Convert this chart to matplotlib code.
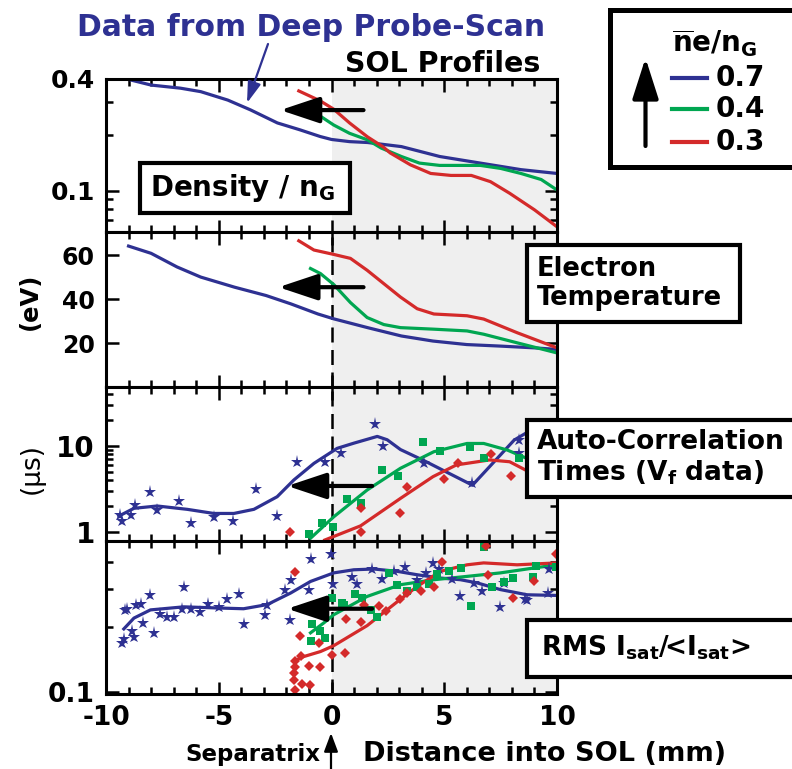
import numpy as np
import matplotlib.pyplot as plt
from matplotlib.patches import Rectangle
from matplotlib.ticker import NullFormatter

W, H = 792, 769

blue = '#2e3192'
green = '#00a651'
red = '#d42a2a'
shade = '#efefef'

# density / nG  (ne/nG = 0.7, 0.4, 0.3)
dens_x_07 = [-8.9, -8.0, -6.7, -5.8, -4.6, -3.6, -2.4, -1.4, -0.5, 0.0, 0.8, 1.6, 3.1, 4.8, 6.6, 8.4, 10.0]
dens_07 = [0.395, 0.371, 0.357, 0.342, 0.308, 0.273, 0.232, 0.213, 0.196, 0.189, 0.184, 0.182, 0.173, 0.153, 0.141, 0.130, 0.124]
dens_x_04 = [-0.8, 0.1, 0.8, 1.6, 2.2, 3.1, 3.9, 4.8, 6.6, 7.5, 8.4, 9.3, 10.0]
dens_04 = [0.267, 0.226, 0.204, 0.188, 0.170, 0.153, 0.141, 0.137, 0.137, 0.132, 0.124, 0.115, 0.101]
dens_x_03 = [-1.45, -0.5, 0.1, 0.8, 1.6, 2.3, 2.6, 3.5, 4.4, 5.3, 6.2, 7.05, 7.9, 9.0, 10.0]
dens_03 = [0.345, 0.305, 0.275, 0.232, 0.195, 0.172, 0.160, 0.138, 0.124, 0.121, 0.121, 0.112, 0.097, 0.079, 0.064]

# electron temperature (eV)
te_x_07 = [-9.0, -8.0, -6.85, -5.8, -4.3, -2.9, -1.8, -0.6, 0.1, 1.6, 3.1, 4.5, 6.0, 7.5, 9.0, 10.0]
te_07 = [64.1, 60.8, 54.6, 50.0, 45.4, 41.6, 37.8, 33.2, 31.0, 27.0, 23.2, 20.9, 19.3, 18.6, 17.8, 17.1]
te_x_04 = [-0.93, -0.49, 0.10, 0.84, 1.58, 2.32, 3.06, 4.54, 6.01, 6.75, 8.23, 10.0]
te_04 = [53.9, 51.6, 46.6, 38.4, 31.6, 28.4, 27.0, 26.3, 25.5, 24.0, 20.1, 15.5]
te_x_03 = [-1.45, -0.78, 0.10, 0.84, 1.58, 2.32, 3.06, 3.80, 4.54, 6.01, 6.75, 8.23, 10.0]
te_03 = [66.5, 62.3, 60.3, 58.5, 53.1, 47.0, 40.9, 35.6, 33.2, 32.4, 30.9, 24.7, 17.8]

# auto-correlation times (us): points and fits
acf_pts_x_07 = [-9.36, -9.28, -8.91, -8.72, -8.03, -7.73, -6.77, -6.22, -5.20, -4.38, -3.37, -2.41,
                -1.55, -0.27, 0.40, 1.91, 2.29, 4.08, 6.23, 8.32, 8.32]
acf_pts_07 = [1.56, 1.34, 1.56, 2.05, 2.92, 1.79, 2.30, 1.25, 1.50, 1.34, 3.13, 1.53,
              6.5, 6.5, 8.2, 18.0, 9.8, 6.3, 3.65, 11.6, 8.2]
acf_fit_x_07 = [-9.43, -8.76, -7.73, -6.40, -5.22, -4.33, -3.44, -2.41, -1.67, -0.78, 0.25, 1.0,
                2.03, 2.47, 3.06, 4.10, 6.25, 8.10, 9.0]
acf_fit_07 = [1.52, 1.87, 1.99, 1.82, 1.63, 1.63, 1.82, 2.55, 3.99, 6.22, 9.3, 10.7,
              12.8, 11.7, 9.0, 6.7, 3.47, 11.6, 16.0]
acf_pts_x_04 = [-1.01, -0.41, 0.06, 0.69, 1.29, 2.22, 2.95, 4.07, 4.81, 6.13, 6.75, 8.32]
acf_pts_04 = [0.94, 1.25, 1.14, 2.42, 2.14, 5.2, 4.43, 11.1, 8.75, 9.55, 7.1, 7.1]
acf_fit_x_04 = [-0.93, 0.10, 1.58, 3.06, 4.54, 6.01, 6.75, 7.79, 8.67, 10.0]
acf_fit_04 = [0.84, 1.49, 3.05, 5.46, 8.5, 10.6, 10.6, 8.9, 7.1, 5.5]
acf_pts_x_03 = [-1.82, 1.29, 1.29, 3.02, 3.33, 5.01, 5.59, 7.08, 7.97]
acf_pts_03 = [1.0, 1.9, 0.98, 1.66, 3.33, 4.07, 6.35, 8.1, 4.48]
acf_fit_x_03 = [-0.3, 1.29, 3.06, 4.50, 5.54, 7.01, 7.90, 8.67, 10.0]
acf_fit_03 = [0.80, 1.17, 2.44, 4.36, 5.97, 6.82, 6.5, 5.1, 3.6]

# RMS Isat / <Isat>
rms_pts_x_07 = [-9.28, -9.18, -9.14, -9.06, -8.84, -8.74, -8.65, -8.47, -8.35, -8.07, -7.88, -7.59,
                -7.29, -7.00, -6.55, -6.62, -6.25, -5.84, -5.49, -4.98, -4.63, -4.08, -3.86, -2.97,
                -2.85, -2.08, -1.85, -1.79, -1.00, -0.90, -0.01, 0.06, 0.92, 1.14, 1.80, 2.25,
                2.77, 3.24, 3.77, 4.17, 4.51, 4.76, 5.35, 5.69, 6.31, 6.69, 7.46, 7.67, 8.56,
                8.67, 9.59, 9.64]
rms_pts_07 = [0.169, 0.176, 0.240, 0.242, 0.191, 0.180, 0.254, 0.255, 0.209, 0.282, 0.188, 0.230,
              0.222, 0.222, 0.306, 0.243, 0.243, 0.234, 0.256, 0.248, 0.270, 0.285, 0.206, 0.228,
              0.254, 0.298, 0.216, 0.331, 0.298, 0.413, 0.437, 0.317, 0.341, 0.317, 0.371, 0.333,
              0.362, 0.381, 0.331, 0.356, 0.396, 0.371, 0.333, 0.279, 0.320, 0.295, 0.248, 0.320, 0.270,
              0.268, 0.287, 0.371]
rms_fit_x_07 = [-9.21, -8.76, -8.03, -6.55, -5.07, -3.90, -2.85, -1.82, -0.93, 0.10, 0.99, 1.88,
                2.91, 3.80, 4.83, 5.72, 6.46, 7.49, 8.67, 10.0]
rms_fit_07 = [0.196, 0.220, 0.240, 0.248, 0.245, 0.243, 0.254, 0.287, 0.325, 0.356, 0.368, 0.371,
              0.362, 0.349, 0.337, 0.331, 0.320, 0.298, 0.282, 0.280]
rms_pts_x_04 = [-0.86, -0.93, -0.49, -0.31, 0.03, 0.47, 0.55, 1.06, 1.36, 1.73, 2.00, 2.54, 2.91,
                3.36, 3.77, 4.32, 4.69, 5.20, 5.75, 6.17, 6.76, 7.13, 7.67, 8.06, 8.94, 9.09, 9.97]
rms_pts_04 = [0.206, 0.173, 0.191, 0.178, 0.272, 0.258, 0.254, 0.285, 0.272, 0.239, 0.222, 0.356, 0.314,
              0.292, 0.306, 0.317, 0.352, 0.362, 0.375, 0.249, 0.469, 0.306, 0.322, 0.337, 0.339, 0.384, 0.379]
rms_fit_x_04 = [-0.93, -0.34, 0.10, 1.58, 3.06, 4.54, 6.01, 7.49, 8.97, 10.0]
rms_fit_04 = [0.188, 0.209, 0.228, 0.277, 0.314, 0.331, 0.343, 0.356, 0.375, 0.388]
rms_pts_x_03 = [-1.60, -1.41, -1.64, -1.60, -1.67, -1.67, -1.64, -1.37, -1.29, -1.00, -0.95, -0.56,
                -0.52, 0.03, 0.62, 0.66, 1.29, 1.44, 2.10, 2.40, 3.03, 3.36, 3.95, 4.54, 4.91, 6.83,
                6.93, 8.03, 8.97, 9.97]
rms_pts_03 = [0.358, 0.182, 0.139, 0.131, 0.123, 0.114, 0.102, 0.147, 0.109, 0.132, 0.108, 0.169,
              0.130, 0.148, 0.152, 0.218, 0.212, 0.254, 0.249, 0.238, 0.270, 0.287, 0.295, 0.306, 0.398, 0.472,
              0.349, 0.272, 0.325, 0.437]
rms_fit_x_03 = [-1.67, -1.23, -0.49, 0.10, 1.58, 3.06, 3.80, 4.83, 6.01, 6.75, 8.23, 10.0]
rms_fit_03 = [0.139, 0.146, 0.154, 0.164, 0.203, 0.269, 0.308, 0.362, 0.388, 0.396, 0.388, 0.396]

# black "shift" arrows per panel: (tail x, tip x, y)
shift_arrows = [(1.42, -2.27, 0.272), (1.42, -2.35, 45.4), (1.80, -1.96, 3.40), (1.80, -1.96, 0.243)]


def fx(px):
    return px / W


def fy(py):
    return 1 - py / H


plt.rcParams['font.family'] = 'DejaVu Sans'
plt.rcParams['font.weight'] = 'bold'
plt.rcParams['mathtext.fontset'] = 'dejavusans'

fig = plt.figure(figsize=(7.92, 7.69), dpi=100)

left_px, right_px = 106, 557
edges = [79, 232, 387, 541, 694]
axes = []
for i in range(4):
    ax = fig.add_axes([fx(left_px), fy(edges[i + 1]), (right_px - left_px) / W, (edges[i + 1] - edges[i]) / H])
    ax.set_xlim(-10, 10)
    ax.axvspan(0, 10, color=shade, lw=0, zorder=0)
    for s in ax.spines.values():
        s.set_linewidth(2.2)
    ax.set_xticks([-10, -5, 0, 5, 10])
    ax.set_xticks(np.arange(-10, 11, 1), minor=True)
    ax.tick_params(which='both', direction='in', top=True, right=True, width=1.8)
    ax.tick_params(which='major', length=9, pad=8)
    ax.tick_params(which='minor', length=5)
    if i < 3:
        ax.tick_params(labelbottom=False)
    if i > 0:
        ax.axvline(0, color='k', lw=1.8, ls=(0, (6, 3)), zorder=1)
    axes.append(ax)

lw = 2.3
ax1, ax2, ax3, ax4 = axes

# panel 1: density
ax1.plot(dens_x_07, dens_07, color=blue, lw=lw)
ax1.plot(dens_x_04, dens_04, color=green, lw=lw)
ax1.plot(dens_x_03, dens_03, color=red, lw=lw)
ax1.set_yscale('log')
ax1.set_ylim(0.06, 0.4)
ax1.set_yticks([0.1, 0.4], labels=['0.1', '0.4'])
ax1.set_yticks([0.07, 0.08, 0.09, 0.2, 0.3], minor=True)
ax1.yaxis.set_minor_formatter(NullFormatter())
ax1.tick_params(axis='y', labelsize=18)

# panel 2: temperature
ax2.plot(te_x_07, te_07, color=blue, lw=lw)
ax2.plot(te_x_04, te_04, color=green, lw=lw)
ax2.plot(te_x_03, te_03, color=red, lw=lw)
ax2.set_ylim(0, 70.5)
ax2.set_yticks([20, 40, 60])
ax2.tick_params(axis='y', labelsize=17)

# panel 3: auto-correlation times
ax3.plot(acf_fit_x_07, acf_fit_07, color=blue, lw=lw)
ax3.plot(acf_fit_x_04, acf_fit_04, color=green, lw=lw)
ax3.plot(acf_fit_x_03, acf_fit_03, color=red, lw=lw)
ax3.plot(acf_pts_x_07, acf_pts_07, ls='none', marker='*', ms=9.5, color=blue, mew=0)
ax3.plot(acf_pts_x_04, acf_pts_04, ls='none', marker='s', ms=5.5, color=green, mew=0)
ax3.plot(acf_pts_x_03, acf_pts_03, ls='none', marker='D', ms=5, color=red, mew=0)
ax3.set_yscale('log')
ax3.set_ylim(0.78, 48)
ax3.set_yticks([1, 10], labels=['1', '10'])
ax3.set_yticks([2, 3, 4, 5, 6, 7, 8, 9, 20, 30, 40], minor=True)
ax3.yaxis.set_minor_formatter(NullFormatter())
ax3.tick_params(axis='y', labelsize=20)

# panel 4: RMS Isat
ax4.plot(rms_fit_x_07, rms_fit_07, color=blue, lw=lw)
ax4.plot(rms_fit_x_04, rms_fit_04, color=green, lw=lw)
ax4.plot(rms_fit_x_03, rms_fit_03, color=red, lw=lw)
ax4.plot(rms_pts_x_07, rms_pts_07, ls='none', marker='*', ms=9.5, color=blue, mew=0)
ax4.plot(rms_pts_x_04, rms_pts_04, ls='none', marker='s', ms=5.5, color=green, mew=0)
ax4.plot(rms_pts_x_03, rms_pts_03, ls='none', marker='D', ms=5, color=red, mew=0)
ax4.set_yscale('log')
ax4.set_ylim(0.098, 0.5)
ax4.set_yticks([0.1], labels=['0.1'])
ax4.set_yticks([0.2, 0.3, 0.4], minor=True)
ax4.yaxis.set_minor_formatter(NullFormatter())
ax4.tick_params(axis='y', labelsize=19)
ax4.set_xticks([-10, -5, 0, 5, 10], labels=['-10', '-5', '0', '5', '10'])
ax4.tick_params(axis='x', labelsize=19)

for ax, (x0, x1, yv) in zip(axes, shift_arrows):
    ax.annotate('', xy=(x1, yv), xytext=(x0, yv),
                arrowprops=dict(arrowstyle='-|>,head_length=1.2,head_width=0.4', mutation_scale=20,
                                lw=3, color='k', shrinkA=0, shrinkB=0), zorder=5)

# titles
fig.text(fx(77), fy(36), 'Data from Deep Probe-Scan', color=blue, fontsize=21.5, va='baseline')
fig.text(fx(540), fy(72), 'SOL Profiles', fontsize=20.5, ha='right', va='baseline')
fig.add_artist(plt.Annotation('', xy=(fx(247), fy(103)), xytext=(fx(268), fy(44)),
                              xycoords='figure fraction', textcoords='figure fraction',
                              arrowprops=dict(arrowstyle='-|>,head_length=0.8,head_width=0.25',
                                              mutation_scale=16, lw=1.6, color=blue,
                                              shrinkA=0, shrinkB=0)))

# y labels
fig.text(fx(30), fy(301), '(eV)', rotation=90, fontsize=17.5, ha='center', va='center')
fig.text(fx(32), fy(468), '(\u03bcs)', rotation=90, fontsize=19, fontweight='normal', ha='center', va='center')

# boxed labels
boxes = [
    ((140, 163, 350, 213), (150, 188), 'Density / n$_\\mathbf{G}$', 20),
    ((527, 245, 740, 322), (537, 283), 'Electron\nTemperature', 18.5),
    ((527, 420, 800, 497), (537, 458), 'Auto-Correlation\nTimes (V$_\\mathbf{f}$ data)', 19),
    ((527, 620, 800, 677), (541, 648), 'RMS I$_\\mathbf{sat}$/<I$_\\mathbf{sat}$>', 19),
]
for (bx0, by0, bx1, by1), (tx, ty), label, fs in boxes:
    fig.add_artist(Rectangle((fx(bx0), fy(by1)), (bx1 - bx0) / W, (by1 - by0) / H,
                             transform=fig.transFigure, fc='white', ec='black', lw=3, zorder=4))
    fig.text(fx(tx), fy(ty), label, fontsize=fs, ha='left', va='center', zorder=6, linespacing=1.15)

# legend box
fig.add_artist(Rectangle((fx(610), fy(167)), (800 - 610) / W, (167 - 10) / H,
                         transform=fig.transFigure, fc='white', ec='black', lw=3.6, zorder=4))
fig.text(fx(672), fy(52), r'$\overline{\mathbf{n}}\mathbf{e/n}_\mathbf{G}$', fontsize=20,
         va='baseline', zorder=6)
leg_colors = [blue, green, red]
leg_labels = ['0.7', '0.4', '0.3']
leg_y = [78, 109, 142]
for c, lab, yy in zip(leg_colors, leg_labels, leg_y):
    fig.add_artist(plt.Line2D([fx(672), fx(707)], [fy(yy), fy(yy)], color=c, lw=3,
                              transform=fig.transFigure, zorder=6))
    fig.text(fx(716), fy(yy), lab, fontsize=20, va='center', zorder=6)
fig.add_artist(plt.Annotation('', xy=(fx(645.5), fy(58)), xytext=(fx(645.5), fy(146)),
                              xycoords='figure fraction', textcoords='figure fraction',
                              arrowprops=dict(arrowstyle='-|>,head_length=1.25,head_width=0.4',
                                              mutation_scale=20, lw=3, color='k',
                                              shrinkA=0, shrinkB=0), zorder=6))

# x axis labels
fig.text(fx(320), fy(761), 'Separatrix', fontsize=16.5, ha='right', va='baseline')
fig.add_artist(plt.Annotation('', xy=(fx(331), fy(733)), xytext=(fx(331), fy(769)),
                              xycoords='figure fraction', textcoords='figure fraction',
                              arrowprops=dict(arrowstyle='-|>,head_length=0.8,head_width=0.3',
                                              mutation_scale=14, lw=1.6, color='k',
                                              shrinkA=0, shrinkB=0)))
fig.text(fx(363), fy(761), 'Distance into SOL (mm)', fontsize=19.5, ha='left', va='baseline')

fig.savefig('out.png', dpi=100)
